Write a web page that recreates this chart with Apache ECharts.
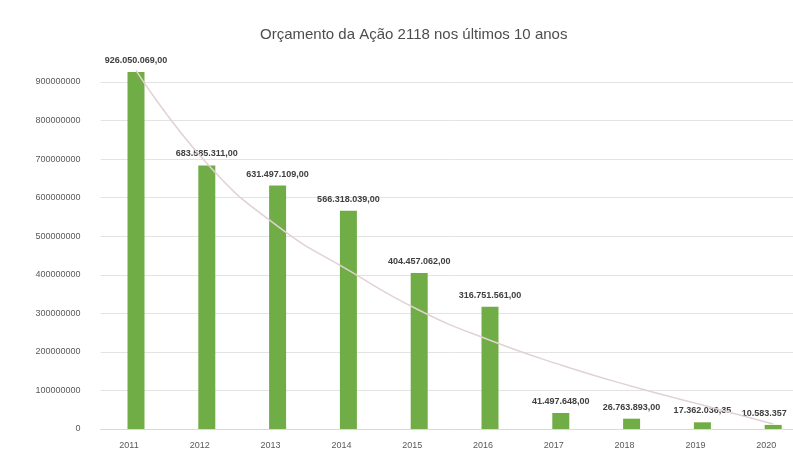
<!DOCTYPE html>
<html>
<head>
<meta charset="utf-8">
<script src="https://cdn.jsdelivr.net/npm/echarts@6/dist/echarts.min.js"></script>
<style>html,body{margin:0;padding:0;background:#fff;overflow:hidden}#c{width:810px;height:454px}</style>
</head>
<body>
<div id="c"></div>
<script>
const titleText = 'Orçamento da Ação 2118 nos últimos 10 anos';
const years = ['2011','2012','2013','2014','2015','2016','2017','2018','2019','2020'];
const budget = [926050069, 683585311, 631497109, 566318039, 404457062, 316751561, 41497648, 26763893, 17362036.35, 10583357];
const budgetLabels = ['926.050.069,00','683.585.311,00','631.497.109,00','566.318.039,00','404.457.062,00','316.751.561,00','41.497.648,00','26.763.893,00','17.362.036,35','10.583.357'];
const trend = [930000000, 689000000, 526000000, 412000000, 308000000, 230000000, 166000000, 111000000, 62000000, 13000000];
const yTicks = [0, 100000000, 200000000, 300000000, 400000000, 500000000, 600000000, 700000000, 800000000, 900000000];

const barData = budget.map((v, i) => i === budget.length - 1
  ? {value: v, label: {offset: [-9, 0]}}
  : v);

const chart = echarts.init(document.getElementById('c'), null, {renderer:'canvas'});
chart.setOption({
  animation: false,
  backgroundColor: '#fff',
  title: {
    text: titleText,
    left: 255, top: 22,
    textStyle: {fontFamily: 'Liberation Sans', fontSize: 15, fontWeight: 'normal', color: '#4d4d4d'}
  },
  grid: {left: 100.6, right: 1.4, top: 82, bottom: 25, containLabel: false},
  xAxis: {
    type: 'category',
    data: years,
    axisLine: {show: true, lineStyle: {color: '#d9d9d9'}},
    axisTick: {show: false},
    axisLabel: {fontFamily: 'Liberation Sans', fontSize: 9, color: '#595959', margin: 12, padding: [0, 14, 0, 0]}
  },
  yAxis: {
    type: 'value',
    min: yTicks[0], max: yTicks[yTicks.length-1], interval: yTicks[1]-yTicks[0],
    axisLine: {show: false},
    axisTick: {show: false},
    splitLine: {lineStyle: {color: '#e3e3e3'}},
    axisLabel: {fontFamily: 'Liberation Sans', fontSize: 9, color: '#595959', margin: 20, formatter: v => String(v)}
  },
  series: [
    {
      type: 'bar',
      data: barData,
      barWidth: 17,
      clip: false,
      itemStyle: {color: '#70ad47'},
      label: {
        show: true, position: 'top', distance: 7,
        fontFamily: 'Liberation Sans', fontSize: 9, fontWeight: 'bold', color: '#404040',
        formatter: p => budgetLabels[p.dataIndex]
      },
      z: 2
    },
    {
      type: 'line',
      data: trend,
      smooth: true,
      clip: false,
      symbol: 'none',
      lineStyle: {color: '#e2d2d2', width: 1.5},
      z: 3
    }
  ]
});
</script>
</body>
</html>
